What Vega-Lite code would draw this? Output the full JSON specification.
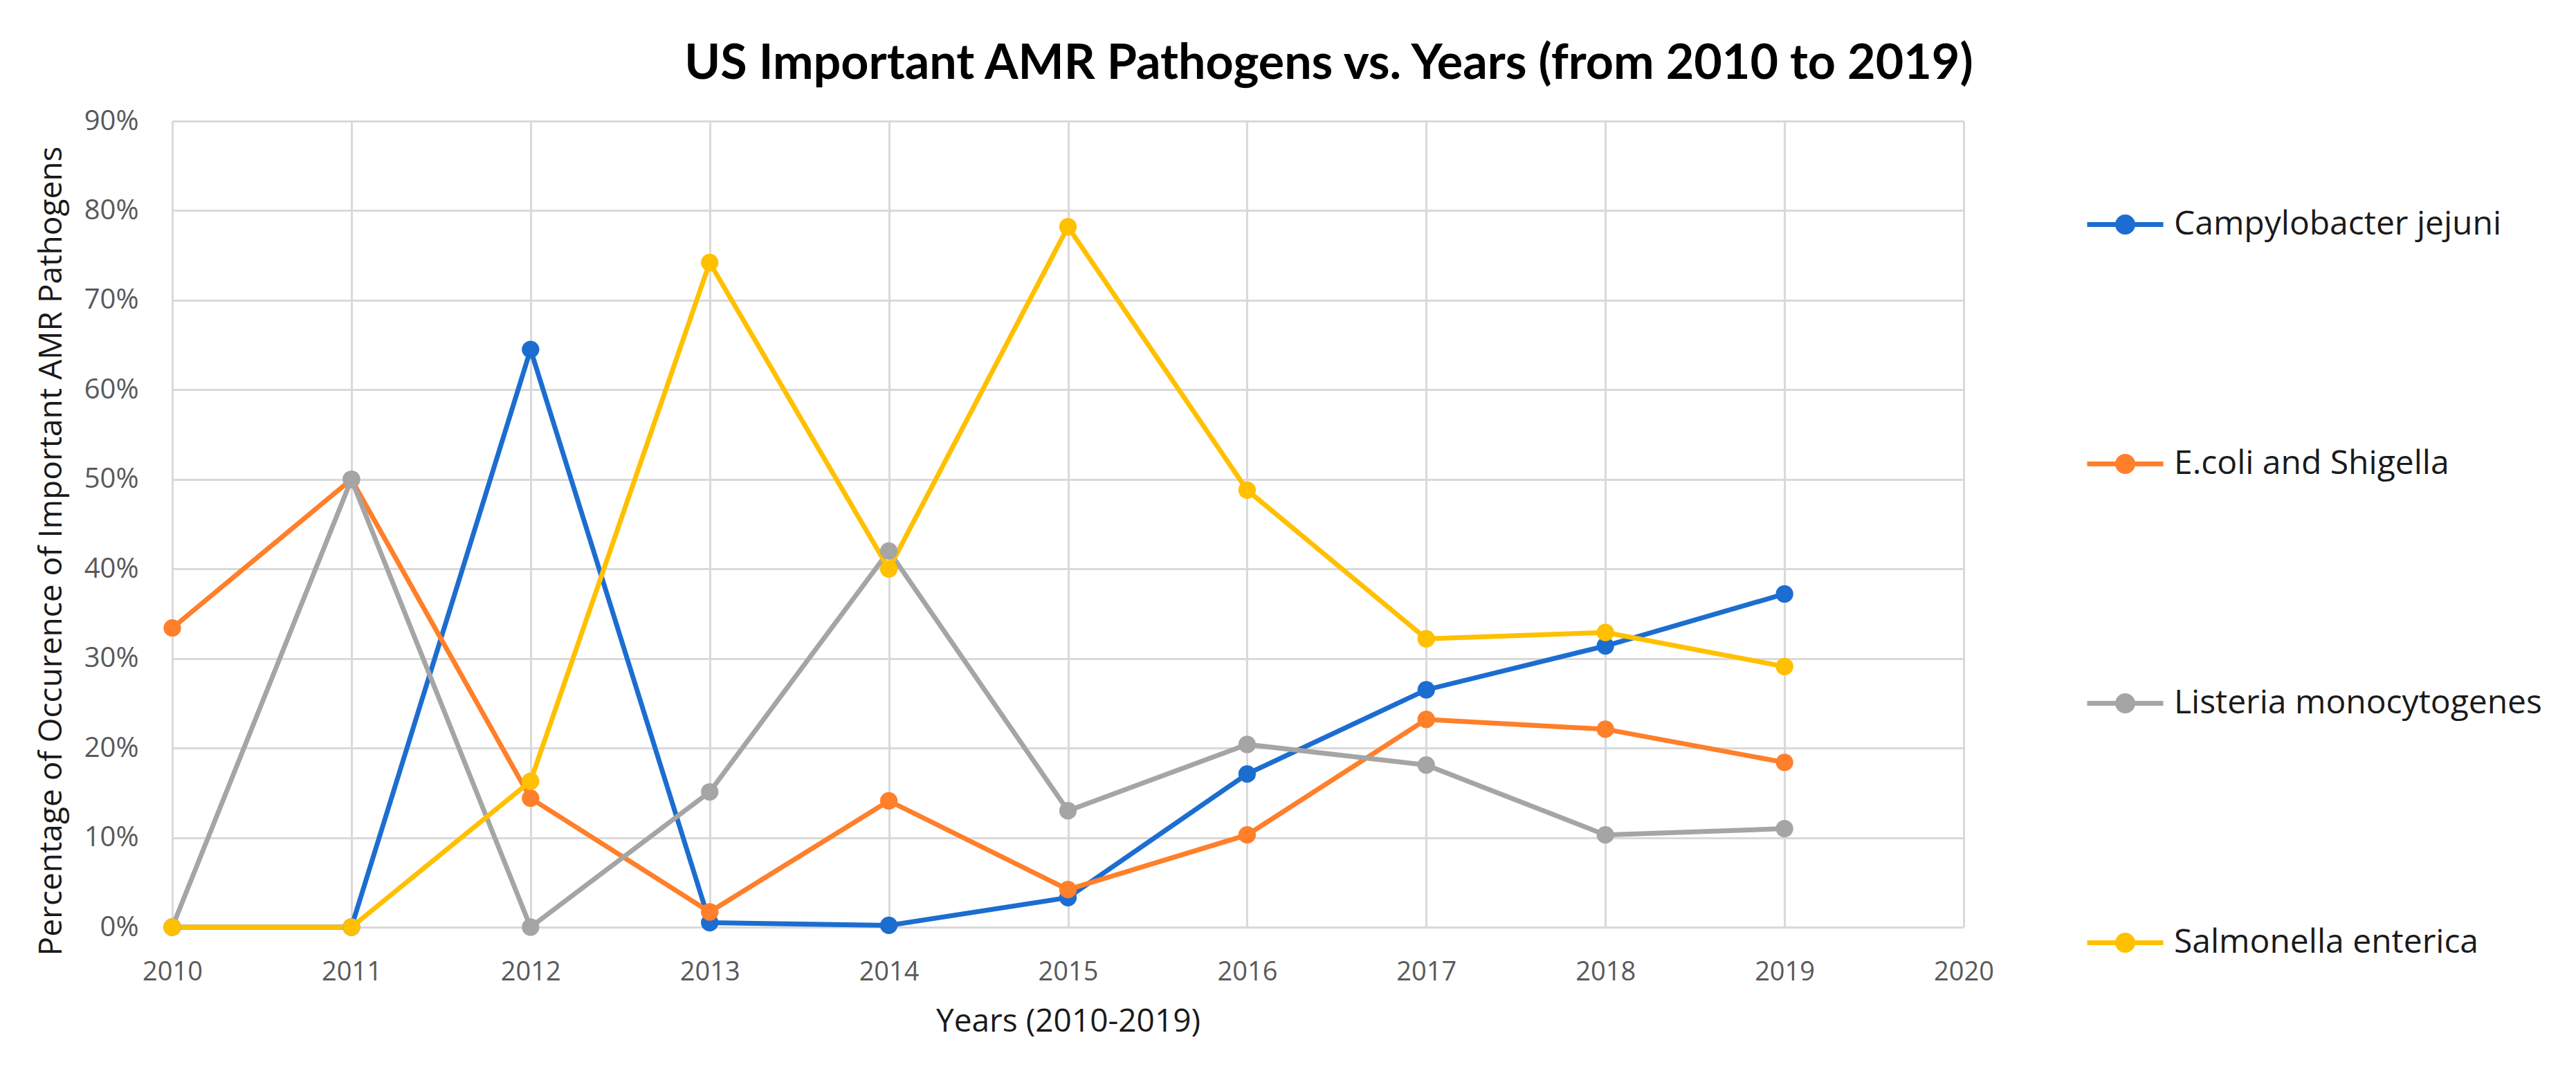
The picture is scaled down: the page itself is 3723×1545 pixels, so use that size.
{
  "$schema": "https://vega.github.io/schema/vega-lite/v6.json",
  "autosize": {"type": "none"},
  "width": 2589,
  "height": 1165,
  "padding": {"left": 249, "top": 175, "right": 885, "bottom": 205},
  "background": "white",
  "config": {"view": {"stroke": null}},
  "title": {
    "text": "US Important AMR Pathogens vs. Years (from 2010 to 2019)",
    "font": "Lato",
    "fontSize": 70,
    "fontWeight": "bold",
    "color": "#000000",
    "anchor": "middle",
    "dx": 377,
    "dy": 96,
    "baseline": "alphabetic",
    "offset": 67
  },
  "data": {
    "values": [
      {"year": 2010, "pathogen": "Campylobacter jejuni", "pct": 0.0},
      {"year": 2011, "pathogen": "Campylobacter jejuni", "pct": 0.0},
      {"year": 2012, "pathogen": "Campylobacter jejuni", "pct": 0.645},
      {"year": 2013, "pathogen": "Campylobacter jejuni", "pct": 0.005},
      {"year": 2014, "pathogen": "Campylobacter jejuni", "pct": 0.002},
      {"year": 2015, "pathogen": "Campylobacter jejuni", "pct": 0.033},
      {"year": 2016, "pathogen": "Campylobacter jejuni", "pct": 0.171},
      {"year": 2017, "pathogen": "Campylobacter jejuni", "pct": 0.265},
      {"year": 2018, "pathogen": "Campylobacter jejuni", "pct": 0.314},
      {"year": 2019, "pathogen": "Campylobacter jejuni", "pct": 0.372},
      {"year": 2010, "pathogen": "E.coli and Shigella", "pct": 0.334},
      {"year": 2011, "pathogen": "E.coli and Shigella", "pct": 0.5},
      {"year": 2012, "pathogen": "E.coli and Shigella", "pct": 0.144},
      {"year": 2013, "pathogen": "E.coli and Shigella", "pct": 0.017},
      {"year": 2014, "pathogen": "E.coli and Shigella", "pct": 0.141},
      {"year": 2015, "pathogen": "E.coli and Shigella", "pct": 0.042},
      {"year": 2016, "pathogen": "E.coli and Shigella", "pct": 0.103},
      {"year": 2017, "pathogen": "E.coli and Shigella", "pct": 0.232},
      {"year": 2018, "pathogen": "E.coli and Shigella", "pct": 0.221},
      {"year": 2019, "pathogen": "E.coli and Shigella", "pct": 0.184},
      {"year": 2010, "pathogen": "Listeria monocytogenes", "pct": 0.0},
      {"year": 2011, "pathogen": "Listeria monocytogenes", "pct": 0.5},
      {"year": 2012, "pathogen": "Listeria monocytogenes", "pct": 0.0},
      {"year": 2013, "pathogen": "Listeria monocytogenes", "pct": 0.151},
      {"year": 2014, "pathogen": "Listeria monocytogenes", "pct": 0.42},
      {"year": 2015, "pathogen": "Listeria monocytogenes", "pct": 0.13},
      {"year": 2016, "pathogen": "Listeria monocytogenes", "pct": 0.204},
      {"year": 2017, "pathogen": "Listeria monocytogenes", "pct": 0.181},
      {"year": 2018, "pathogen": "Listeria monocytogenes", "pct": 0.103},
      {"year": 2019, "pathogen": "Listeria monocytogenes", "pct": 0.11},
      {"year": 2010, "pathogen": "Salmonella enterica", "pct": 0.0},
      {"year": 2011, "pathogen": "Salmonella enterica", "pct": 0.0},
      {"year": 2012, "pathogen": "Salmonella enterica", "pct": 0.163},
      {"year": 2013, "pathogen": "Salmonella enterica", "pct": 0.742},
      {"year": 2014, "pathogen": "Salmonella enterica", "pct": 0.4},
      {"year": 2015, "pathogen": "Salmonella enterica", "pct": 0.782},
      {"year": 2016, "pathogen": "Salmonella enterica", "pct": 0.488},
      {"year": 2017, "pathogen": "Salmonella enterica", "pct": 0.322},
      {"year": 2018, "pathogen": "Salmonella enterica", "pct": 0.329},
      {"year": 2019, "pathogen": "Salmonella enterica", "pct": 0.291}
    ]
  },
  "encoding": {
    "x": {
      "field": "year",
      "type": "quantitative",
      "scale": {"domain": [2010, 2020], "nice": false, "zero": false},
      "axis": {
        "values": [2010, 2011, 2012, 2013, 2014, 2015, 2016, 2017, 2018, 2019, 2020],
        "format": "d",
        "grid": true,
        "gridColor": "#d9d9d9",
        "gridWidth": 3,
        "domain": false,
        "ticks": false,
        "labelFlush": false,
        "labelOverlap": false,
        "labelBound": false,
        "labelFont": "Open Sans",
        "labelFontSize": 38,
        "labelColor": "#595959",
        "labelPadding": 46,
        "title": "Years (2010-2019)",
        "titleFont": "Open Sans",
        "titleFontSize": 46,
        "titleFontWeight": "normal",
        "titleColor": "#1a1a1a",
        "titleBaseline": "alphabetic",
        "titleY": 150
      }
    },
    "y": {
      "field": "pct",
      "type": "quantitative",
      "scale": {"domain": [0, 0.9], "nice": false},
      "axis": {
        "values": [0, 0.1, 0.2, 0.3, 0.4, 0.5, 0.6, 0.7, 0.8, 0.9],
        "format": ".0%",
        "grid": true,
        "gridColor": "#d9d9d9",
        "gridWidth": 3,
        "domain": false,
        "ticks": false,
        "labelFont": "Open Sans",
        "labelFontSize": 40,
        "labelColor": "#595959",
        "labelPadding": 49,
        "title": "Percentage of Occurence of Important AMR Pathogens",
        "titleFont": "Open Sans",
        "titleFontSize": 46,
        "titleFontWeight": "normal",
        "titleColor": "#1a1a1a",
        "titleBaseline": "alphabetic",
        "titleX": -161,
        "titleY": 621
      }
    },
    "color": {
      "field": "pathogen",
      "type": "nominal",
      "scale": {
        "domain": ["Campylobacter jejuni", "E.coli and Shigella", "Listeria monocytogenes", "Salmonella enterica"],
        "range": ["#1c6dd0", "#ff7f2a", "#a5a5a5", "#ffc000"]
      },
      "legend": {
        "title": null,
        "orient": "none",
        "legendX": 2764,
        "legendY": 91,
        "direction": "vertical",
        "padding": 0,
        "symbolType": "M-1,0L1,0M-0.2,0A0.2,0.2,0,1,0,0.2,0A0.2,0.2,0,1,0,-0.2,0",
        "symbolSize": 12100,
        "symbolStrokeWidth": 7,
        "rowPadding": 262,
        "labelOffset": 12,
        "labelFont": "Open Sans",
        "labelFontSize": 48,
        "labelColor": "#1a1a1a",
        "labelLimit": 1000,
        "encode": {
          "symbols": {
            "update": {
              "fill": {"scale": "color", "field": "value"},
              "stroke": {"scale": "color", "field": "value"},
              "fillOpacity": {"value": 1},
              "strokeOpacity": {"value": 1}
            }
          }
        }
      }
    },
    "order": {"field": "year", "type": "quantitative"}
  },
  "layer": [
    {"mark": {"type": "line", "strokeWidth": 7}},
    {"mark": {"type": "point", "filled": true, "size": 640, "opacity": 1}}
  ]
}
